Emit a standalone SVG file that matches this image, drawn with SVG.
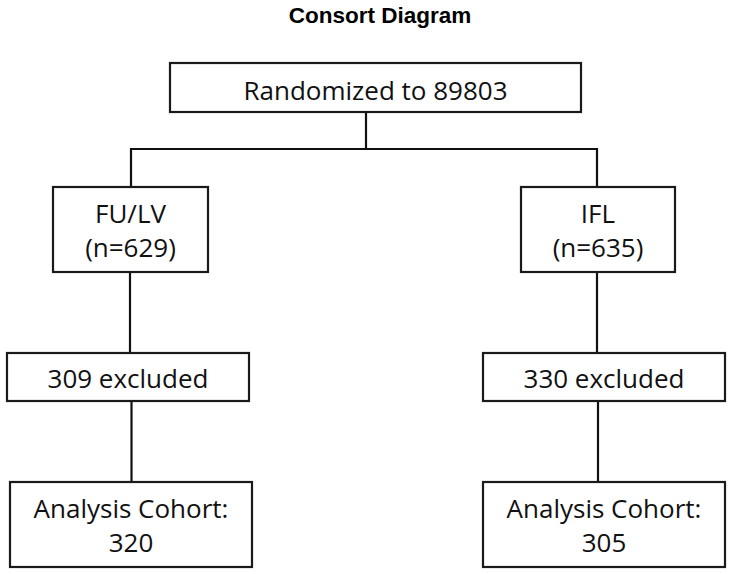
<svg xmlns="http://www.w3.org/2000/svg" width="732" height="574" viewBox="0 0 732 574">
<style>
.box{fill:#fff;stroke:#1a1a1a;stroke-width:2.2}
.lbl{font-family:"Open Sans","Liberation Sans",sans-serif;font-size:26px;fill:#111;text-anchor:middle}
.conn line{stroke:#111;stroke-width:2.2}
.title{font-family:"Liberation Sans",Arial,sans-serif;font-size:22.5px;font-weight:bold;fill:#000;text-anchor:middle}
</style>
<rect width="732" height="574" fill="#fff"/>
<text class="title" x="380" y="23">Consort Diagram</text>
<g id="connectors" class="conn">
<line x1="366" y1="112" x2="366" y2="149"/>
<line x1="130" y1="149" x2="598" y2="149"/>
<line x1="131" y1="148" x2="131" y2="187"/>
<line x1="597" y1="148" x2="597" y2="187"/>
<line x1="130" y1="272" x2="130" y2="353"/>
<line x1="131.5" y1="401" x2="131.5" y2="482"/>
<line x1="597" y1="272" x2="597" y2="353"/>
<line x1="598" y1="401" x2="598" y2="482"/>
</g>
<g id="randomized">
<rect class="box" x="170" y="63" width="411" height="49"/>
<text class="lbl" x="375.5" y="100">Randomized to 89803</text>
</g>
<g id="fulv">
<rect class="box" x="53" y="187" width="155" height="85"/>
<text class="lbl" x="130.5" y="223">FU/LV</text>
<text class="lbl" x="130.5" y="257">(n=629)</text>
</g>
<g id="ifl">
<rect class="box" x="521" y="187" width="154" height="85"/>
<text class="lbl" x="598" y="223">IFL</text>
<text class="lbl" x="598" y="257">(n=635)</text>
</g>
<g id="excl-left">
<rect class="box" x="7" y="353" width="242" height="48"/>
<text class="lbl" x="128" y="388">309 excluded</text>
</g>
<g id="excl-right">
<rect class="box" x="483" y="353" width="242" height="48"/>
<text class="lbl" x="604" y="388">330 excluded</text>
</g>
<g id="cohort-left">
<rect class="box" x="10" y="482" width="242" height="85"/>
<text class="lbl" x="131" y="518">Analysis Cohort:</text>
<text class="lbl" x="131" y="552">320</text>
</g>
<g id="cohort-right">
<rect class="box" x="483" y="482" width="242" height="85"/>
<text class="lbl" x="604" y="518">Analysis Cohort:</text>
<text class="lbl" x="604" y="552">305</text>
</g>
</svg>
